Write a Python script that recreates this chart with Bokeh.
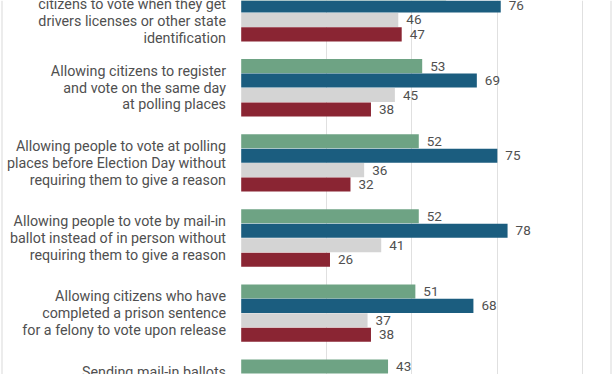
from bokeh.plotting import figure
from bokeh.models import ColumnDataSource, Range1d, FixedTicker, Span
from bokeh.core.properties import value
from bokeh.embed import file_html
from bokeh.resources import INLINE

# ---- data ----
questions = [
    ["Automatically registering all eligible", "citizens to vote when they get",
     "drivers licenses or other state", "identification"],
    ["Allowing citizens to register", "and vote on the same day", "at polling places"],
    ["Allowing people to vote at polling", "places before Election Day without",
     "requiring them to give a reason"],
    ["Allowing people to vote by mail-in", "ballot instead of in person without",
     "requiring them to give a reason"],
    ["Allowing citizens who have", "completed a prison sentence",
     "for a felony to vote upon release"],
    ["Sending mail-in ballots", "to all registered voters", "before each election"],
]
series = ["Total", "Democrats", "Independents", "Republicans"]
total = [60, 53, 52, 52, 51, 43]
democrats = [76, 69, 75, 78, 68, 68]
independents = [46, 45, 36, 41, 37, 36]
republicans = [47, 38, 32, 26, 38, 20]
colors = ["#6ea384", "#1b5d7f", "#d4d4d4", "#8a2533"]
grid_ticks = [25, 50, 75, 100]

# ---- layout constants ----
G = 75.1     # group spacing (px)
S = 14.45    # bar slot (px)
LH = 16.67   # label line height (px)
W, H = 612, 374
ZERO_X = 240.7
PX = 3.415   # px per percentage point
TOP_Y = 12.2

values = [total, democrats, independents, republicans]
ys, rights, cols, txt = [], [], [], []
for gi in range(len(questions)):
    for j, arr in enumerate(values):
        ys.append(gi * G + (j - 1.5) * S)
        rights.append(arr[gi])
        cols.append(colors[j])
        txt.append(str(arr[gi]))
bars = ColumnDataSource(dict(y=ys, right=rights, color=cols, text=txt))

ly, lt = [], []
for gi, lines in enumerate(questions):
    n = len(lines)
    for k, line in enumerate(lines):
        ly.append(gi * G + (k - (n - 1) / 2) * LH)
        lt.append(line)
labels = ColumnDataSource(dict(y=ly, text=lt))

x0 = -ZERO_X / PX
x1 = (W - ZERO_X) / PX

p = figure(width=W, height=H, output_backend="svg", toolbar_location=None,
           x_range=Range1d(x0, x1), y_range=Range1d(H - TOP_Y, -TOP_Y),
           x_axis_location=None, y_axis_location=None,
           min_border_left=0, min_border_right=0, min_border_top=0, min_border_bottom=0)
p.outline_line_color = None
p.background_fill_color = "white"
p.border_fill_color = "white"
p.ygrid.visible = False
p.xgrid.ticker = FixedTicker(ticks=grid_ticks)
p.xgrid.grid_line_color = "#e0e0e0"
p.xgrid.grid_line_width = 1

for xpx in (1.5, 610.5):
    p.add_layout(Span(location=(xpx - ZERO_X) / PX, dimension="height",
                      line_color="#e6e6e6", line_width=1.5))

p.hbar(y="y", left=0, right="right", height=S * 0.97, color="color", line_color=None, source=bars)
p.text(x="right", y="y", text="text", source=bars, x_offset=8, text_baseline="middle",
       text_align="left", text_font=value("Roboto"), text_font_size="13.5px", text_color="#505050")
p.text(x=0, y="y", text="text", source=labels, x_offset=-15.2, text_baseline="middle",
       text_align="right", text_font=value("Roboto"), text_font_size="14.3px", text_color="#505050")

open("out.html", "w").write(file_html(p, INLINE))
